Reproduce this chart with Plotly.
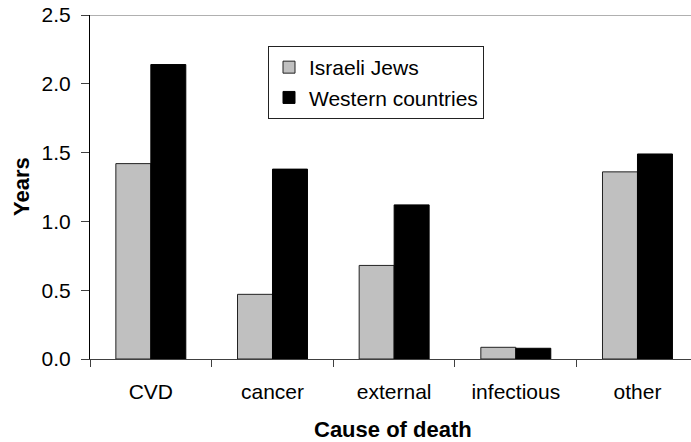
import plotly.graph_objects as go

categories = ["CVD", "cancer", "external", "infectious", "other"]
israeli_jews = [1.42, 0.47, 0.68, 0.085, 1.36]
western_countries = [2.14, 1.38, 1.12, 0.078, 1.49]
y_ticks = [0.0, 0.5, 1.0, 1.5, 2.0, 2.5]
y_tick_labels = ["0.0", "0.5", "1.0", "1.5", "2.0", "2.5"]

FONT = "Liberation Sans, Arial, sans-serif"

fig = go.Figure()
fig.add_trace(go.Bar(
    x=categories, y=israeli_jews, name="Israeli Jews",
    marker=dict(color="#c0c0c0", line=dict(color="#222222", width=1)),
))
fig.add_trace(go.Bar(
    x=categories, y=western_countries, name="Western countries",
    marker=dict(color="#000000", line=dict(color="#000000", width=1)),
))

fig.update_layout(
    width=691, height=442,
    margin=dict(l=90, r=0, t=15, b=83),
    paper_bgcolor="white", plot_bgcolor="white",
    barmode="group", bargap=0.425, bargroupgap=0,
    font=dict(family=FONT, size=21, color="#000000"),
    showlegend=True,
    legend=dict(
        x=(268 - 90) / 601, y=(359 - 46) / 344, xanchor="left", yanchor="top",
        bordercolor="#222222", borderwidth=1, bgcolor="white",
        font=dict(size=21, family=FONT),
        tracegroupgap=0,
    ),
    xaxis=dict(
        range=[-0.5, 4.44],
        showline=True, linecolor="#404040", linewidth=1,
        ticks="outside", tickson="boundaries", ticklen=7, tickcolor="#404040",
        showgrid=False, zeroline=False,
        tickfont=dict(size=21, family=FONT),
        ticklabelstandoff=14,
    ),
    yaxis=dict(
        range=[0, 2.5],
        tickvals=y_ticks, ticktext=y_tick_labels,
        showline=True, linecolor="#000000", linewidth=1,
        ticks="outside", ticklen=8, tickcolor="#404040",
        showgrid=False, zeroline=False,
        tickfont=dict(size=21, family=FONT),
        ticklabelstandoff=6,
    ),
    shapes=[dict(
        type="line", xref="paper", yref="y", x0=0, x1=1, y0=2.5, y1=2.5,
        line=dict(color="#b0b0b0", width=2),
    )],
    annotations=[
        dict(text="<b>Cause of death</b>", xref="paper", yref="paper",
             x=(393 - 90) / 601, y=-(429 - 359) / 344, xanchor="center", yanchor="middle",
             showarrow=False, font=dict(size=22, family=FONT)),
        dict(text="<b>Years</b>", xref="paper", yref="paper",
             x=-(90 - 21) / 601, y=0.5, xanchor="center", yanchor="middle",
             textangle=-90, showarrow=False, font=dict(size=22, family=FONT)),
    ],
)

fig.write_html(
    "out.html",
    config={"displayModeBar": False},
    post_script="document.body.style.margin='0';document.body.style.overflow='hidden';",
)
